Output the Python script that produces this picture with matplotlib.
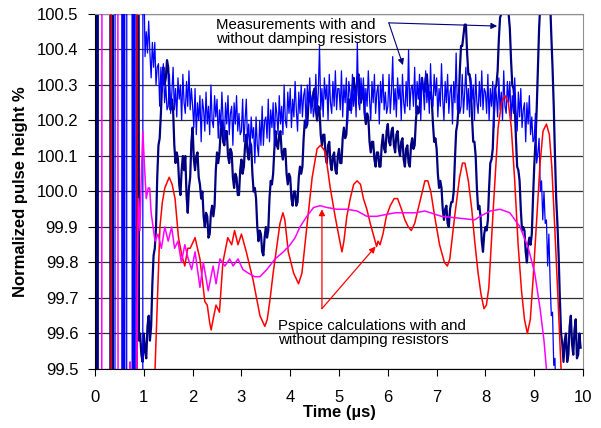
import numpy as np
import matplotlib
matplotlib.use("Agg")
import matplotlib.pyplot as plt

plt.rcParams['font.family'] = ['Liberation Sans', 'DejaVu Sans']

# ---- measurement without damping resistors (navy) ----
# initial ringing, far outside the visible range
navy_burst_t = [0.00, 0.01, 0.03, 0.05, 0.06, 0.31, 0.32, 0.34, 0.36, 0.37, 0.85, 0.86]
navy_burst_v = [94, 106, 94, 106, 94, 94, 106, 94, 106, 94, 94, 106]
navy_t0, navy_dt = 0.90, 0.025
navy_v = [
    99.58, 99.60, 99.54, 99.52, 99.60, 99.55, 99.53, 99.62, 99.65, 99.58,
    99.62, 99.74, 99.82, 99.84, 99.90, 100.04, 100.13, 100.15, 100.22, 100.31,
    100.35, 100.30, 100.32, 100.37, 100.35, 100.27, 100.23, 100.26, 100.23, 100.13,
    100.08, 100.11, 100.09, 100.02, 99.99, 100.06, 100.10, 100.06, 100.10, 99.99,
    99.94, 100.01, 100.04, 100.14, 100.18, 100.09, 100.06, 100.10, 100.11, 100.04,
    100.02, 99.98, 100.00, 99.93, 99.90, 99.94, 99.93, 99.87, 99.88, 99.94,
    99.96, 99.93, 99.96, 100.06, 100.11, 100.08, 100.11, 100.17, 100.20, 100.14,
    100.13, 100.17, 100.17, 100.10, 100.08, 100.12, 100.11, 100.04, 100.01, 100.05,
    100.04, 99.99, 99.99, 100.06, 100.09, 100.05, 100.07, 100.13, 100.16, 100.11,
    100.09, 100.14, 100.13, 100.05, 100.00, 100.01, 99.98, 99.90, 99.86, 99.89,
    99.88, 99.83, 99.82, 99.87, 99.90, 99.87, 99.89, 99.98, 100.03, 100.02,
    100.05, 100.12, 100.17, 100.13, 100.12, 100.16, 100.17, 100.11, 100.09, 100.12,
    100.12, 100.05, 100.02, 100.05, 100.04, 99.98, 99.96, 100.00, 100.00, 99.96,
    99.97, 100.04, 100.07, 100.05, 100.07, 100.15, 100.20, 100.18, 100.19, 100.25,
    100.28, 100.25, 100.24, 100.28, 100.29, 100.23, 100.20, 100.24, 100.23, 100.16,
    100.13, 100.16, 100.16, 100.10, 100.08, 100.13, 100.14, 100.08, 100.06, 100.10,
    100.11, 100.06, 100.05, 100.10, 100.12, 100.08, 100.08, 100.15, 100.18, 100.15,
    100.16, 100.23, 100.26, 100.23, 100.23, 100.29, 100.32, 100.28, 100.27, 100.32,
    100.33, 100.27, 100.25, 100.29, 100.29, 100.22, 100.19, 100.22, 100.21, 100.14,
    100.11, 100.14, 100.14, 100.09, 100.07, 100.11, 100.11, 100.07, 100.07, 100.13,
    100.16, 100.12, 100.11, 100.17, 100.19, 100.14, 100.13, 100.17, 100.18, 100.13,
    100.11, 100.16, 100.17, 100.12, 100.10, 100.14, 100.15, 100.09, 100.07, 100.12,
    100.13, 100.08, 100.07, 100.13, 100.15, 100.12, 100.13, 100.20, 100.24, 100.22,
    100.23, 100.29, 100.32, 100.29, 100.28, 100.32, 100.33, 100.28, 100.26, 100.28,
    100.26, 100.19, 100.14, 100.15, 100.12, 100.05, 100.01, 100.03, 100.01, 99.95,
    99.92, 99.95, 99.96, 99.91, 99.90, 99.95, 99.97, 99.97, 100.00, 100.09,
    100.17, 100.19, 100.24, 100.34, 100.41, 100.41, 100.44, 100.47, 100.47, 100.39,
    100.33, 100.33, 100.30, 100.21, 100.14, 100.14, 100.10, 100.01, 99.95, 99.96,
    99.93, 99.86, 99.83, 99.88, 99.90, 99.89, 99.92, 100.01, 100.08, 100.09,
    100.12, 100.22, 100.29, 100.30, 100.34, 100.43, 100.49, 100.50, 100.53, 100.56,
    100.57, 100.55, 100.52, 100.50, 100.46, 100.37, 100.30, 100.29, 100.25, 100.15,
    100.07, 100.06, 100.03, 99.95, 99.89, 99.90, 99.89, 99.83, 99.80, 99.85,
    99.87, 99.85, 99.88, 99.98, 100.07, 100.14, 100.23, 100.35, 100.46, 100.53,
    100.60, 100.65, 100.70, 100.72, 100.72, 100.68, 100.62, 100.54, 100.44, 100.35,
    100.24, 100.10, 99.98, 99.91, 99.82, 99.70, 99.60, 99.57, 99.52, 99.58,
    99.60, 99.52, 99.54, 99.62, 99.65, 99.57, 99.54, 99.61, 99.64, 99.53,
    99.54, 99.60, 99.56,
]

# ---- measurement with damping resistors (blue) ----
blue_burst_t = [0.40, 0.42, 0.54, 0.56, 0.57, 0.59, 0.60, 0.62, 0.64, 0.66,
                0.75, 0.77, 0.78, 0.80, 0.81, 0.83, 0.97, 0.99]
blue_burst_v = [94, 106, 106, 94, 106, 94, 106, 94, 94, 106,
                106, 94, 106, 94, 106, 94, 94, 106]
blue_t0, blue_dt = 1.00, 0.025
blue_v = [
    100.62, 100.38, 100.45, 100.39, 100.48, 100.39, 100.32, 100.42, 100.35, 100.42,
    100.30, 100.35, 100.36, 100.24, 100.35, 100.28, 100.36, 100.25, 100.30, 100.23,
    100.24, 100.33, 100.22, 100.28, 100.35, 100.23, 100.29, 100.21, 100.32, 100.26,
    100.30, 100.20, 100.33, 100.25, 100.22, 100.31, 100.24, 100.34, 100.23, 100.29,
    100.24, 100.18, 100.29, 100.16, 100.25, 100.20, 100.27, 100.14, 100.26, 100.23,
    100.17, 100.28, 100.19, 100.24, 100.16, 100.30, 100.20, 100.18, 100.27, 100.21,
    100.26, 100.15, 100.23, 100.18, 100.28, 100.20, 100.14, 100.25, 100.19, 100.27,
    100.16, 100.22, 100.24, 100.13, 100.25, 100.19, 100.27, 100.17, 100.22, 100.16,
    100.17, 100.26, 100.14, 100.20, 100.26, 100.14, 100.19, 100.11, 100.21, 100.15,
    100.18, 100.08, 100.21, 100.13, 100.10, 100.20, 100.13, 100.24, 100.13, 100.20,
    100.21, 100.15, 100.26, 100.14, 100.23, 100.18, 100.25, 100.13, 100.25, 100.22,
    100.16, 100.27, 100.19, 100.24, 100.16, 100.30, 100.20, 100.18, 100.28, 100.22,
    100.29, 100.18, 100.26, 100.21, 100.31, 100.23, 100.17, 100.28, 100.22, 100.30,
    100.21, 100.27, 100.29, 100.18, 100.30, 100.24, 100.32, 100.22, 100.27, 100.21,
    100.24, 100.33, 100.22, 100.28, 100.41, 100.23, 100.29, 100.21, 100.32, 100.26,
    100.30, 100.20, 100.33, 100.25, 100.22, 100.31, 100.24, 100.34, 100.23, 100.29,
    100.29, 100.23, 100.34, 100.21, 100.30, 100.25, 100.32, 100.19, 100.31, 100.28,
    100.22, 100.33, 100.24, 100.29, 100.21, 100.42, 100.25, 100.23, 100.32, 100.26,
    100.32, 100.21, 100.29, 100.24, 100.34, 100.26, 100.20, 100.31, 100.25, 100.33,
    100.22, 100.28, 100.30, 100.19, 100.31, 100.25, 100.33, 100.23, 100.28, 100.22,
    100.24, 100.33, 100.22, 100.28, 100.38, 100.23, 100.29, 100.21, 100.32, 100.26,
    100.30, 100.20, 100.33, 100.25, 100.22, 100.31, 100.24, 100.40, 100.23, 100.29,
    100.30, 100.24, 100.35, 100.22, 100.31, 100.26, 100.33, 100.20, 100.32, 100.29,
    100.23, 100.34, 100.25, 100.30, 100.22, 100.36, 100.26, 100.24, 100.33, 100.27,
    100.32, 100.21, 100.29, 100.24, 100.36, 100.26, 100.20, 100.31, 100.25, 100.33,
    100.22, 100.28, 100.30, 100.19, 100.31, 100.25, 100.39, 100.23, 100.28, 100.22,
    100.24, 100.33, 100.22, 100.28, 100.35, 100.23, 100.29, 100.21, 100.32, 100.26,
    100.30, 100.20, 100.33, 100.25, 100.22, 100.31, 100.24, 100.34, 100.23, 100.29,
    100.28, 100.22, 100.33, 100.20, 100.29, 100.24, 100.31, 100.18, 100.30, 100.27,
    100.21, 100.32, 100.23, 100.28, 100.20, 100.34, 100.24, 100.22, 100.31, 100.25,
    100.31, 100.20, 100.27, 100.22, 100.32, 100.23, 100.17, 100.28, 100.21, 100.29,
    100.18, 100.23, 100.25, 100.14, 100.25, 100.19, 100.27, 100.16, 100.21, 100.14,
    100.15, 100.22, 100.08, 100.11, 100.15, 100.00, 100.03, 99.92, 100.00, 99.91,
    99.92, 99.79, 99.88, 99.75, 99.65, 99.66, 99.51, 99.53, 99.36, 99.37,
]

# ---- Pspice without damping resistors (red) ----
red_t = [0.32, 0.34, 0.85, 0.87, 1.22,
         1.23, 1.28, 1.33, 1.38, 1.43, 1.52, 1.58, 1.64, 1.71, 1.78, 1.84, 1.90, 1.95,
         2.05, 2.10, 2.15, 2.20, 2.25, 2.30, 2.35, 2.38, 2.42, 2.48, 2.55, 2.62, 2.72,
         2.80, 2.86, 2.93, 3.00, 3.10, 3.17, 3.24, 3.31, 3.38, 3.48, 3.53, 3.59, 3.65,
         3.72, 3.79, 3.85, 3.89, 3.96, 4.07, 4.17, 4.24, 4.34, 4.45, 4.55, 4.62, 4.68,
         4.72, 4.82, 4.92, 5.03, 5.06, 5.10, 5.16, 5.23, 5.30, 5.37, 5.44, 5.50, 5.57,
         5.64, 5.72, 5.77, 5.80, 5.84, 5.90, 5.97, 6.05, 6.13, 6.20, 6.28, 6.35, 6.42,
         6.48, 6.55, 6.62, 6.69, 6.76, 6.82, 6.88, 6.96, 7.06, 7.16, 7.22, 7.27, 7.37,
         7.47, 7.53, 7.58, 7.65, 7.72, 7.78, 7.85, 7.91, 7.97, 8.02, 8.07, 8.16, 8.26,
         8.33, 8.40, 8.47, 8.53, 8.60, 8.67, 8.74, 8.80, 8.86, 8.92, 8.98, 9.05, 9.12,
         9.18, 9.25, 9.31, 9.36, 9.42, 9.48, 9.55, 9.60]
red_v = [94, 106, 106, 94, 94,
         99.50, 99.70, 99.90, 99.97, 100.01, 100.04, 100.02, 99.98, 99.87, 99.82, 99.79, 99.84, 99.84,
         99.87, 99.84, 99.81, 99.75, 99.69, 99.68, 99.63, 99.61, 99.64, 99.68, 99.66, 99.80, 99.87,
         99.85, 99.89, 99.85, 99.88, 99.83, 99.79, 99.75, 99.70, 99.65, 99.62, 99.64, 99.70, 99.77,
         99.84, 99.91, 99.94, 99.92, 99.83, 99.77, 99.74, 99.77, 99.90, 100.04, 100.12, 100.13, 100.12,
         100.11, 100.01, 99.93, 99.85, 99.83, 99.86, 99.93, 99.98, 100.02, 100.03, 100.02, 99.98, 99.95,
         99.91, 99.87, 99.845, 99.86, 99.85, 99.88, 99.93, 99.96, 99.98, 99.98, 99.95, 99.92, 99.90,
         99.89, 99.91, 99.95, 99.99, 100.03, 100.03, 100.00, 99.93, 99.85, 99.80, 99.79, 99.81, 99.93,
         100.04, 100.08, 100.08, 100.03, 99.95, 99.86, 99.77, 99.71, 99.67, 99.68, 99.73, 99.95, 100.18,
         100.25, 100.27, 100.25, 100.18, 100.03, 99.85, 99.72, 99.64, 99.60, 99.64, 99.76, 99.92, 100.08,
         100.17, 100.19, 100.16, 100.07, 99.90, 99.72, 99.50, 99.30]

# ---- Pspice with damping resistors (magenta) ----
mag_t = [0.12, 0.16, 0.45, 0.49, 0.70, 0.72, 0.74, 0.82,
         0.86, 0.88, 0.89, 0.92, 0.95, 0.98, 1.01, 1.05, 1.09, 1.12, 1.15, 1.19, 1.23,
         1.29, 1.36, 1.43, 1.50, 1.57, 1.63, 1.70, 1.77, 1.84, 1.91, 1.98, 2.05, 2.15,
         2.22, 2.32, 2.42, 2.48, 2.56, 2.66, 2.76, 2.83, 2.93, 3.03, 3.14, 3.27, 3.38,
         3.45, 3.52, 3.69, 3.86, 4.00, 4.10, 4.20, 4.34, 4.48, 4.61, 4.75, 4.95, 5.16,
         5.37, 5.57, 5.77, 6.15, 6.56, 6.76, 7.10, 7.45, 7.78, 7.89, 8.10, 8.30, 8.50,
         8.71, 8.88, 9.01, 9.12, 9.20, 9.25, 9.30]
mag_v = [94, 106, 106, 94, 94, 99.52, 94, 94,
         99.60, 99.90, 99.98, 99.89, 100.05, 100.17, 100.08, 99.98, 100.01, 100.01, 99.94, 99.90, 99.86,
         99.88, 99.84, 99.90, 99.86, 99.90, 99.84, 99.86, 99.80, 99.85, 99.81, 99.78, 99.83, 99.73,
         99.80, 99.72, 99.79, 99.74, 99.81, 99.79, 99.81, 99.79, 99.81, 99.78, 99.77, 99.76, 99.76,
         99.77, 99.78, 99.81, 99.83, 99.85, 99.87, 99.90, 99.93, 99.955, 99.96, 99.955, 99.95, 99.95,
         99.945, 99.93, 99.93, 99.94, 99.94, 99.945, 99.93, 99.925, 99.92, 99.93, 99.945, 99.95, 99.94,
         99.90, 99.84, 99.77, 99.67, 99.58, 99.50, 99.40]

x_ticks = list(range(0, 11))
y_ticks = [99.5, 99.6, 99.7, 99.8, 99.9, 100.0, 100.1, 100.2, 100.3, 100.4, 100.5]


def series(burst_t, burst_v, t0, dt, vals):
    t = t0 + dt * np.arange(len(vals))
    return np.concatenate([burst_t, t]), np.concatenate([burst_v, vals])


fig = plt.figure(figsize=(6.01, 4.28), dpi=100)
ax = fig.add_axes([0.1581, 0.1379, 0.812, 0.8294])

for y in y_ticks:
    ax.axhline(y, color='#303030', lw=0.9, zorder=1)

nt, nv = series(navy_burst_t, navy_burst_v, navy_t0, navy_dt, navy_v)
bt, bv = series(blue_burst_t, blue_burst_v, blue_t0, blue_dt, blue_v)
ax.plot(nt, nv, color='#000080', lw=1.6, zorder=2)
ax.plot(bt, bv, color='#0000FF', lw=0.9, zorder=3)
ax.plot(red_t, red_v, color='#FF0000', lw=1.1, zorder=4)
ax.plot(mag_t, mag_v, color='#FF00FF', lw=1.1, zorder=5)

ax.set_xlim(0, 10)
ax.set_ylim(99.5, 100.5)
ax.set_xticks(x_ticks)
ax.set_yticks(y_ticks)
ax.set_yticklabels([f"{v:.1f}" for v in y_ticks])
ax.tick_params(axis='both', direction='out', length=5, width=0.8, labelsize=12, colors='black')
ax.tick_params(axis='x', pad=10)
ax.tick_params(axis='y', pad=7)
for s in ['top', 'right']:
    ax.spines[s].set_color('#909090')
ax.spines['left'].set_color('black')
ax.spines['bottom'].set_color('black')

ax.set_xlabel("Time (µs)", fontsize=12, fontweight='bold', labelpad=0)
ax.set_ylabel("Normalized pulse height %", fontsize=12, fontweight='bold', labelpad=6)

# annotations
ax.text(2.48, 100.448, "Measurements with and\nwithout damping resistors", fontsize=10.8,
        ha='left', va='center', linespacing=1.0, zorder=6)
navy_arrow = dict(arrowstyle='-|>', color='#000080', lw=0.8, mutation_scale=9, shrinkA=0, shrinkB=0)
ax.annotate("", xy=(8.24, 100.466), xytext=(6.02, 100.475), arrowprops=navy_arrow, zorder=7)
ax.annotate("", xy=(6.31, 100.356), xytext=(6.02, 100.475), arrowprops=navy_arrow, zorder=7)

ax.text(3.75, 99.602, "Pspice calculations with and\nwithout damping resistors", fontsize=10.8,
        ha='left', va='center', linespacing=1.0, zorder=6)
red_arrow = dict(arrowstyle='-|>', color='#FF0000', lw=0.9, mutation_scale=9, shrinkA=0, shrinkB=0)
ax.annotate("", xy=(4.65, 99.95), xytext=(4.65, 99.67), arrowprops=red_arrow, zorder=7)
ax.annotate("", xy=(5.75, 99.845), xytext=(4.65, 99.67), arrowprops=red_arrow, zorder=7)

fig.savefig("out.png", dpi=100)
